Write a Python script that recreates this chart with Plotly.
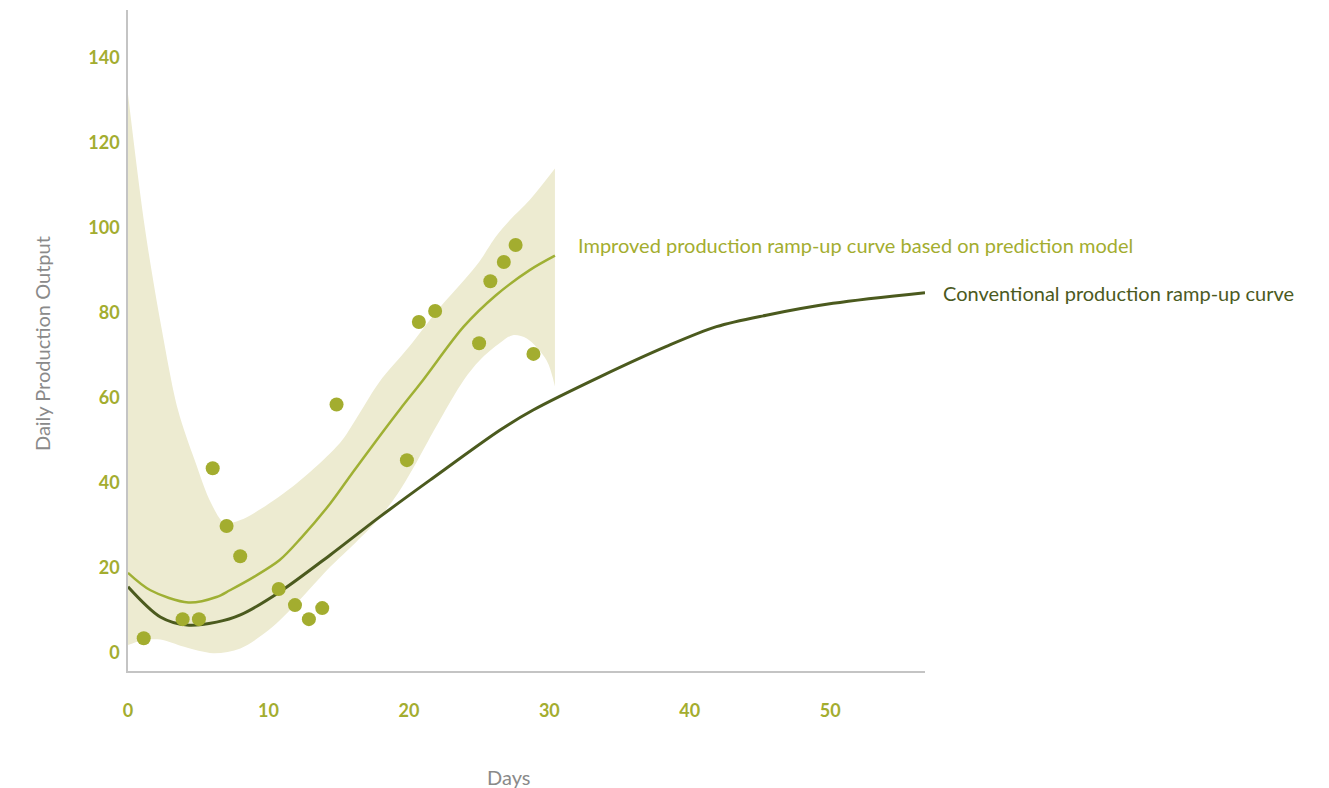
import plotly.graph_objects as go

# Observed daily output points
obs_days = [1.12, 3.89, 5.05, 6.03, 7.02, 7.99, 10.73, 11.89, 12.88, 13.83, 14.85,
            19.86, 20.71, 21.87, 25.0, 25.8, 26.76, 27.6, 28.87]
obs_output = [3.5, 8.0, 8.0, 43.5, 29.9, 22.8, 15.1, 11.3, 8.0, 10.6, 58.5,
              45.4, 77.9, 80.5, 72.9, 87.5, 92.0, 96.0, 70.4]

# Improved (prediction model) curve
imp_days = [0, 1.6, 4.3, 6.3, 7.26, 9.0, 10.8, 12.3, 14.4, 16.0, 17.7, 19.4, 21.0, 23.9, 26.2, 28.6, 30.4]
imp_output = [18.9, 14.8, 11.9, 13.2, 14.8, 18.0, 21.9, 27.0, 35.2, 42.5, 50.1, 57.5, 64.2, 76.8, 84.2, 90.1, 93.5]

# Confidence band (upper and lower limits)
band_upper_days = [0, 1.19, 2.37, 3.56, 4.75, 5.93, 6.88, 8.0, 9.5, 12.0, 14.4, 15.3, 16.5,
                   17.9, 20.0, 22.0, 24.0, 25.0, 26.2, 27.2, 28.6, 30.4]
band_upper = [131.5, 100.3, 76.8, 57.2, 45.4, 35.2, 30.6, 31.3, 34.0, 39.9, 47.0, 50.3, 56.5,
              63.8, 72.0, 80.5, 88.0, 92.0, 98.0, 101.9, 106.6, 114.0]
band_lower_days = [0, 1.0, 2.3, 4.0, 6.07, 8.0, 10.3, 12.5, 14.4, 16.2, 17.9, 19.2, 20.3, 21.4, 23.9,
                   25.05, 26.5, 27.4, 28.4, 29.8, 30.4]
band_lower = [1.9, 3.0, 3.2, 1.5, 0.0, 1.1, 6.2, 13.5, 20.3, 26.0, 31.8, 37.5, 43.5, 50.1, 64.2,
              68.9, 73.0, 74.8, 74.0, 68.9, 62.7]

# Conventional curve
conv_days = [0, 2.3, 4.2, 6.3, 8.0, 10.8, 14.4, 17.9, 21.5, 26.5, 28.85, 33.6, 38.3,
             41.9, 45.45, 50.2, 56.75]
conv_output = [15.6, 8.5, 6.6, 7.3, 9.0, 14.4, 23.1, 32.0, 40.7, 52.5, 57.2, 65.0, 72.1,
               76.8, 79.5, 82.3, 84.8]

x_ticks = [0, 10, 20, 30, 40, 50]
y_ticks = [0, 20, 40, 60, 80, 100, 120, 140]

label_improved = "Improved production ramp-up curve based on prediction model"
label_conv = "Conventional production ramp-up curve"

GREEN = "#a3ad2f"
LINE_GREEN = "#9fb034"
DARK = "#4b5a1e"
BAND = "#edebd1"
FONT = "Lato"

fig = go.Figure()

fig.add_trace(go.Scatter(x=band_lower_days, y=band_lower, mode="lines",
                         line=dict(width=0, color=BAND, shape="spline", smoothing=0.9),
                         hoverinfo="skip", showlegend=False))
fig.add_trace(go.Scatter(x=band_upper_days, y=band_upper, mode="lines", fill="tonexty",
                         fillcolor=BAND,
                         line=dict(width=0, color=BAND, shape="spline", smoothing=0.9),
                         hoverinfo="skip", showlegend=False))

fig.add_trace(go.Scatter(x=conv_days, y=conv_output, mode="lines",
                         line=dict(color=DARK, width=3, shape="spline", smoothing=0.9),
                         showlegend=False))
fig.add_trace(go.Scatter(x=imp_days, y=imp_output, mode="lines",
                         line=dict(color=LINE_GREEN, width=2.5, shape="spline", smoothing=0.9),
                         showlegend=False))
fig.add_trace(go.Scatter(x=obs_days, y=obs_output, mode="markers",
                         marker=dict(color=GREEN, size=14, line=dict(width=0)),
                         showlegend=False))

fig.add_annotation(x=imp_days[-1], y=96.0, xref="x", yref="y",
                   text=label_improved, showarrow=False, xanchor="left", yanchor="middle",
                   xshift=21, font=dict(family=FONT, size=20, color=GREEN))
fig.add_annotation(x=conv_days[-1], y=conv_output[-1], xref="x", yref="y",
                   text=label_conv, showarrow=False, xanchor="left", yanchor="middle",
                   xshift=16, font=dict(family=FONT, size=20, color=DARK))

fig.add_annotation(x=0.478, y=-0.160, xref="paper", yref="paper", text="Days",
                   showarrow=False, xanchor="center", yanchor="middle",
                   font=dict(family=FONT, size=20, color="#8a8a8a"))
fig.add_annotation(x=-0.108, y=0.496, xref="paper", yref="paper", text="Daily Production Output",
                   showarrow=False, textangle=-90, xanchor="center", yanchor="middle",
                   font=dict(family=FONT, size=20, color="#8a8a8a"))

fig.update_xaxes(range=[0, 56.75], tickvals=x_ticks, showgrid=False, zeroline=False,
                 showline=True, linecolor="#c4c4c4", linewidth=1.5,
                 ticks="", ticklabelstandoff=23,
                 tickfont=dict(family=FONT, size=18, color=GREEN, weight="bold"))
fig.update_yaxes(range=[-4.2, 151.3], tickvals=y_ticks, showgrid=False, zeroline=False,
                 showline=True, linecolor="#c4c4c4", linewidth=1.5,
                 ticks="", ticklabelstandoff=3,
                 tickfont=dict(family=FONT, size=18, color=GREEN, weight="bold"))

fig.update_layout(width=1329, height=788, margin=dict(l=128, r=404, t=10, b=117),
                  plot_bgcolor="white", paper_bgcolor="white",
                  font=dict(family=FONT))

fig.write_html("out.html")
